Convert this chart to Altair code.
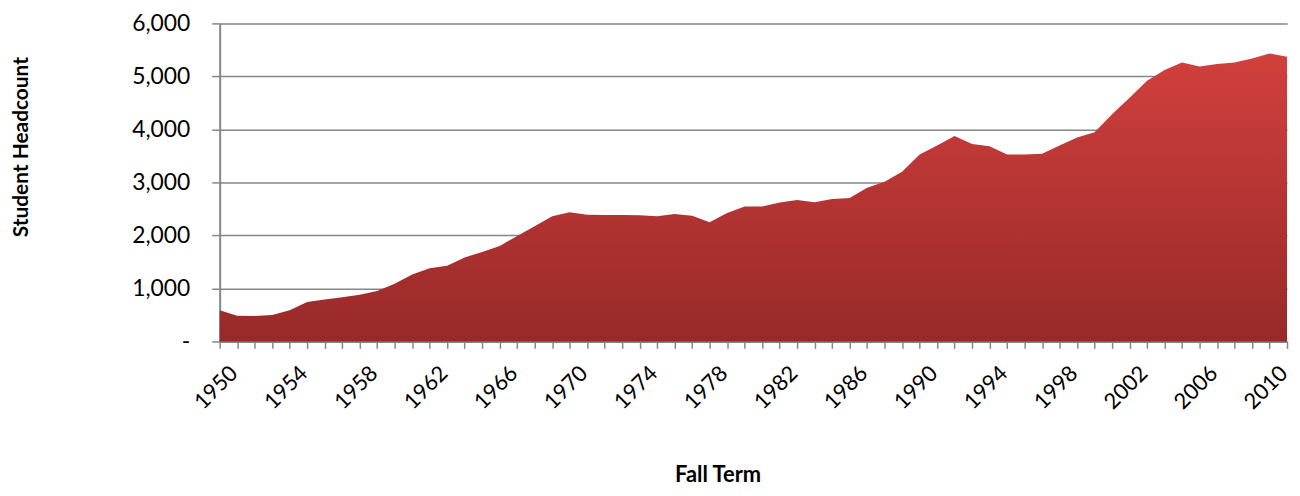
import altair as alt
import pandas as pd

years = list(range(1950, 2012))
headcount = [
    590, 484, 478, 497, 590, 745, 789, 832, 882, 950,
    1087, 1261, 1379, 1429, 1584, 1689, 1801, 1987, 2174, 2360,
    2435, 2391, 2385, 2385, 2379, 2360, 2403, 2372, 2248, 2422,
    2546, 2546, 2621, 2670, 2627, 2689, 2707, 2900, 3012, 3199,
    3527, 3695, 3875, 3726, 3683, 3527, 3527, 3540, 3695, 3845,
    3944, 4285, 4596, 4918, 5123, 5260, 5185, 5235, 5260, 5340,
    5433, 5370,
]
y_ticks = [0, 1000, 2000, 3000, 4000, 5000, 6000]

df = pd.DataFrame({"year": years, "count": headcount})

FONT = "Lato"
AXIS_COLOR = "#868686"

chart = alt.Chart(df).mark_area(
    line=False,
    color=alt.Gradient(
        gradient="linear",
        stops=[
            alt.GradientStop(color="#982929", offset=0),
            alt.GradientStop(color="#d1403d", offset=1),
        ],
        x1=0, x2=0, y1=1, y2=0,
    ),
).encode(
    x=alt.X(
        "year:Q",
        scale=alt.Scale(domain=[1950, 2011], nice=False, zero=False),
        axis=alt.Axis(
            title="Fall Term",
            values=years,
            format="d",
            labelExpr="(datum.value - 1950) % 4 == 0 ? datum.label : ''",
            labelAngle=-45,
            labelAlign="right",
            labelBaseline="middle",
            labelPadding=21,
            labelOffset=14,
            labelFontSize=22,
            labelFont=FONT,
            labelColor="#000000",
            labelOverlap=False,
            labelFlush=False,
            tickSize=7,
            tickColor=AXIS_COLOR,
            tickWidth=1.5,
            domainColor=AXIS_COLOR,
            domainWidth=2,
            grid=False,
            titleFont=FONT,
            titleFontSize=22,
            titleFontWeight="bold",
            titleColor="#000000",
            titleX=501,
            titleY=134,
            titleBaseline="middle",
        ),
    ),
    y=alt.Y(
        "count:Q",
        scale=alt.Scale(domain=[0, 6000], nice=False),
        axis=alt.Axis(
            title="Student Headcount",
            values=y_ticks,
            labelExpr="datum.value == 0 ? '-' : format(datum.value, ',')",
            labelFontSize=23,
            labelFont=FONT,
            labelColor="#000000",
            labelPadding=22,
            tickSize=8,
            tickColor=AXIS_COLOR,
            tickWidth=1.5,
            domainColor=AXIS_COLOR,
            domainWidth=2,
            grid=True,
            gridColor=AXIS_COLOR,
            gridWidth=1.5,
            titleFont=FONT,
            titleFontSize=21,
            titleFontWeight="bold",
            titleColor="#000000",
            titleX=-199,
            titleY=124,
            titleAngle=-90,
            titleAlign="center",
            titleBaseline="middle",
        ),
    ),
).properties(
    width=1074,
    height=320,
    autosize=alt.AutoSizeParams(type="none"),
    padding={"left": 213, "top": 14, "right": 5, "bottom": 146},
).configure_view(stroke=None)

chart.save("out.html", embed_options={"renderer": "svg", "actions": False})
